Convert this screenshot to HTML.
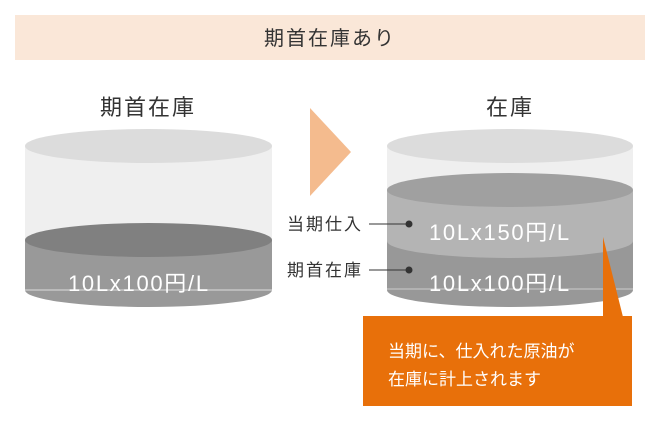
<!DOCTYPE html>
<html><head><meta charset="utf-8"><style>
body{margin:0;width:660px;height:422px;background:#fff;overflow:hidden;font-family:"Liberation Sans","Noto Sans CJK JP",sans-serif;}
</style></head><body>
<svg width="660" height="422" xmlns="http://www.w3.org/2000/svg" font-family="Liberation Sans, Noto Sans CJK JP, sans-serif">
<rect x="15" y="15" width="630" height="45" fill="#fae7d8"/>
<text x="330" y="45" font-size="20" fill="#333" text-anchor="middle" letter-spacing="2">期首在庫あり</text>
<text x="148" y="115" font-size="22" fill="#333" text-anchor="middle" letter-spacing="2">期首在庫</text>
<text x="510" y="115" font-size="22" fill="#333" text-anchor="middle" letter-spacing="2">在庫</text>
<polygon points="310,108 351,152 310,196" fill="#f4bb8e"/>
<rect x="25" y="146" width="247" height="94" fill="#efefef"/>
<ellipse cx="148.5" cy="146" rx="123.5" ry="17" fill="#dcdcdc"/>
<ellipse cx="148.5" cy="290" rx="123.5" ry="17" fill="#999"/>
<rect x="25" y="240" width="247" height="50" fill="#999"/>
<ellipse cx="148.5" cy="240" rx="123.5" ry="17" fill="#808080"/>
<line x1="25" y1="290" x2="272" y2="290" stroke="#ddd" stroke-width="1"/>
<text x="68" y="291" font-size="22" fill="#fff" letter-spacing="1.7">10Lx100円/L</text>
<rect x="387" y="146" width="246" height="50" fill="#efefef"/>
<ellipse cx="510" cy="146" rx="123" ry="17" fill="#dcdcdc"/>
<ellipse cx="510" cy="290" rx="123" ry="17" fill="#989898"/>
<rect x="387" y="241" width="246" height="49" fill="#989898"/>
<ellipse cx="510" cy="241" rx="123" ry="17" fill="#b4b4b4"/>
<rect x="387" y="190" width="246" height="51" fill="#b4b4b4"/>
<ellipse cx="510" cy="190" rx="123" ry="17" fill="#a0a0a0"/>
<line x1="387" y1="289" x2="633" y2="289" stroke="#ccc" stroke-width="1"/>
<text x="429" y="240" font-size="22" fill="#fff" letter-spacing="1.7">10Lx150円/L</text>
<text x="429" y="291" font-size="22" fill="#fff" letter-spacing="1.7">10Lx100円/L</text>
<text x="287" y="230" font-size="17" fill="#333" letter-spacing="2">当期仕入</text>
<line x1="369" y1="224" x2="409" y2="224" stroke="#333" stroke-width="1"/>
<circle cx="409" cy="224" r="3.5" fill="#333"/>
<text x="287" y="276" font-size="17" fill="#333" letter-spacing="2">期首在庫</text>
<line x1="369" y1="270" x2="409" y2="270" stroke="#333" stroke-width="1"/>
<circle cx="409" cy="270" r="3.5" fill="#333"/>
<polygon points="603,237 623,317 603,317" fill="#e8700a"/>
<rect x="363" y="316" width="269" height="90" fill="#e8700a"/>
<text x="388" y="357" font-size="17" fill="#fff">当期に、仕入れた原油が</text>
<text x="388" y="385" font-size="17" fill="#fff">在庫に計上されます</text>
</svg>
</body></html>
